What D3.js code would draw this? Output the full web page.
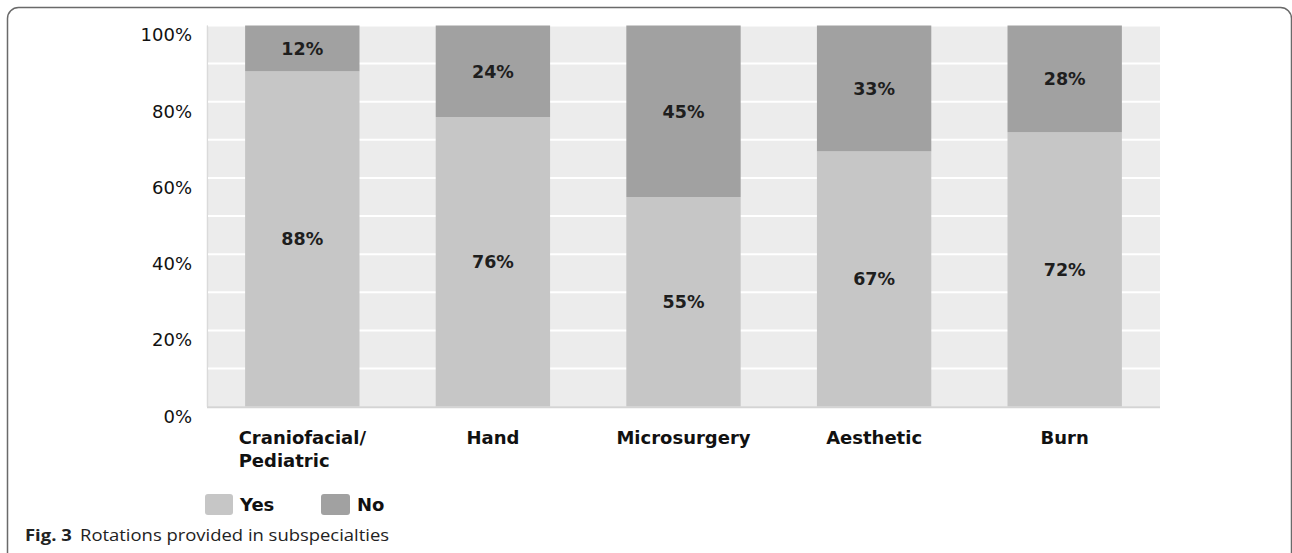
<!DOCTYPE html>
<html>
<head>
<meta charset="utf-8">
<script src="https://cdn.jsdelivr.net/npm/d3@7"></script>
<style>
  html, body { margin: 0; padding: 0; background: #fff; }
  svg { display: block; }
</style>
</head>
<body>
<svg id="chart" width="1292" height="553"></svg>
<script>
// Rotations offered per subspecialty (percent of programs)
const categories = ["Craniofacial/\nPediatric", "Hand", "Microsurgery", "Aesthetic", "Burn"];
const yesValues = [88, 76, 55, 67, 72];
const noValues = [12, 24, 45, 33, 28];
const seriesNames = ["Yes", "No"];
const yTicks = [0, 20, 40, 60, 80, 100];
const gridTicks = [10, 20, 30, 40, 50, 60, 70, 80, 90, 100];

const colors = { Yes: "#c6c6c6", No: "#a1a1a1" };

const svg = d3.select("#chart");

// Figure frame
svg.append("rect")
  .attr("x", 7.5).attr("y", 7.5)
  .attr("width", 1284).attr("height", 580)
  .attr("rx", 11).attr("ry", 11)
  .attr("fill", "none")
  .attr("stroke", "#6a6a6a")
  .attr("stroke-width", 1.5);

const plot = { left: 207, right: 1160, top: 25.5, bottom: 406.7 };

const x = d3.scaleBand()
  .domain(categories)
  .range([plot.left, plot.right])
  .paddingInner(0.4)
  .paddingOuter(0.2);

const y = d3.scaleLinear()
  .domain([0, 100])
  .range([plot.bottom, plot.top]);

// Plot background
svg.append("rect")
  .attr("x", plot.left).attr("y", plot.top)
  .attr("width", plot.right - plot.left)
  .attr("height", plot.bottom - plot.top)
  .attr("fill", "#ececec");

// Left edge of plot area
svg.append("line")
  .attr("x1", plot.left + 0.5).attr("x2", plot.left + 0.5)
  .attr("y1", plot.top).attr("y2", plot.bottom)
  .attr("stroke", "#dadada").attr("stroke-width", 1.5);

// Horizontal gridlines every 10%
svg.append("g")
  .selectAll("line")
  .data(gridTicks)
  .join("line")
  .attr("x1", plot.left + 1).attr("x2", plot.right)
  .attr("y1", d => y(d)).attr("y2", d => y(d))
  .attr("stroke", "#ffffff").attr("stroke-width", 2);

// Stacked data
const rows = categories.map((c, i) => ({ cat: c, Yes: yesValues[i], No: noValues[i] }));
const stacked = d3.stack().keys(seriesNames)(rows);

const layers = svg.append("g")
  .selectAll("g")
  .data(stacked)
  .join("g")
  .attr("fill", d => colors[d.key]);

layers.selectAll("rect")
  .data(d => d)
  .join("rect")
  .attr("x", d => x(d.data.cat))
  .attr("width", x.bandwidth())
  .attr("y", d => y(d[1]))
  .attr("height", d => y(d[0]) - y(d[1]));

// Value labels centered in each segment
layers.selectAll("text")
  .data(d => d.map(v => ({ v, key: d.key })))
  .join("text")
  .attr("x", d => x(d.v.data.cat) + x.bandwidth() / 2)
  .attr("y", d => (y(d.v[0]) + y(d.v[1])) / 2)
  .attr("dy", "0.36em")
  .attr("text-anchor", "middle")
  .attr("fill", "#1e1e1e")
  .attr("font-family", "'DejaVu Sans', sans-serif")
  .attr("font-weight", "bold")
  .attr("font-size", 17.5)
  .text(d => d.v.data[d.key] + "%");

// Baseline
svg.append("line")
  .attr("x1", plot.left).attr("x2", plot.right)
  .attr("y1", plot.bottom + 0.5).attr("y2", plot.bottom + 0.5)
  .attr("stroke", "#d4d4d4").attr("stroke-width", 2);

// Y axis labels
const yAxis = svg.append("g")
  .attr("transform", `translate(${plot.left},0)`)
  .call(d3.axisLeft(y).tickValues(yTicks).tickSize(0).tickPadding(15).tickFormat(d => d + "%"));
yAxis.select(".domain").remove();
yAxis.selectAll("text")
  .attr("dy", "0.85em")
  .attr("fill", "#111")
  .attr("font-family", "'DejaVu Sans', sans-serif")
  .attr("font-size", 18);

// X axis labels (multi-line, lines left-aligned within a centered block)
const xAxis = svg.append("g")
  .attr("transform", `translate(0,${plot.bottom})`)
  .call(d3.axisBottom(x).tickSize(0).tickPadding(0));
xAxis.select(".domain").remove();
xAxis.selectAll("text").each(function (d) {
  const t = d3.select(this);
  const lines = d.split("\n");
  t.text(null)
    .attr("y", 37)
    .attr("dy", null)
    .attr("fill", "#111")
    .attr("font-family", "'DejaVu Sans', sans-serif")
    .attr("font-weight", "bold")
    .attr("font-size", 18)
    .attr("text-anchor", lines.length > 1 ? "start" : "middle");
  lines.forEach((ln, i) => {
    t.append("tspan").attr("x", 0).attr("dy", i === 0 ? 0 : 23).text(ln);
  });
  if (lines.length > 1) {
    const w = this.querySelector("tspan").getComputedTextLength();
    t.selectAll("tspan").attr("x", -w / 2);
  }
});

// Legend
const legend = svg.append("g");
const legendItems = [
  { key: "Yes", x: 205, w: 28 },
  { key: "No", x: 321, w: 29 }
];
legendItems.forEach(it => {
  legend.append("rect")
    .attr("x", it.x).attr("y", 494)
    .attr("width", it.w).attr("height", 21)
    .attr("rx", 3)
    .attr("fill", colors[it.key]);
  legend.append("text")
    .attr("x", it.x + it.w + 7).attr("y", 511)
    .attr("fill", "#111")
    .attr("font-family", "'DejaVu Sans', sans-serif")
    .attr("font-weight", "bold")
    .attr("font-size", 18)
    .text(it.key);
});

// Caption (slightly widened type)
const cap = svg.append("text")
  .attr("transform", "translate(25,541) scale(1.19,1)")
  .attr("fill", "#222")
  .attr("font-family", "'Open Sans', sans-serif")
  .attr("font-size", 15.5);
cap.append("tspan").attr("font-weight", "bold").text("Fig. 3");
cap.append("tspan").attr("dx", 7).text("Rotations provided in subspecialties");
</script>
</body>
</html>
